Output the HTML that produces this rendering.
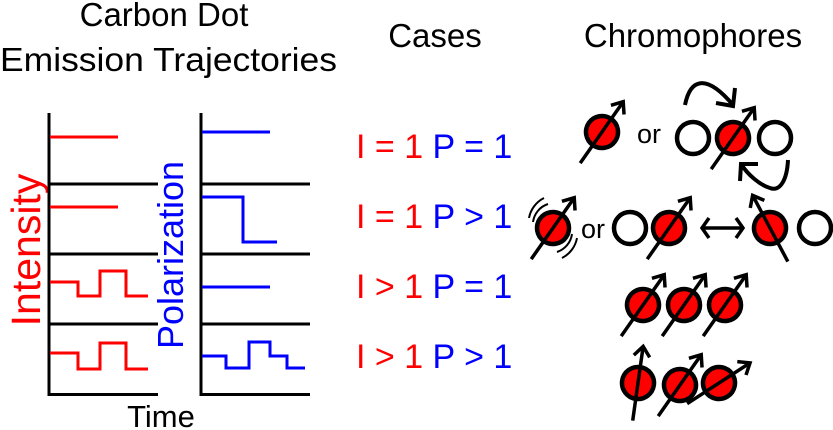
<!DOCTYPE html>
<html><head><meta charset="utf-8"><style>
html,body{margin:0;padding:0;background:#fff;}
svg{display:block;font-family:"Liberation Sans",Arial,sans-serif;}
</style></head><body>
<svg width="833" height="430" viewBox="0 0 833 430" xmlns="http://www.w3.org/2000/svg">
<defs>
<g id="sp">
 <circle cx="0" cy="0" r="16" fill="#f00" stroke="#000" stroke-width="4.5"/>
 <line x1="0" y1="38" x2="0" y2="-37" stroke="#000" stroke-width="3.5"/>
 <polyline points="-8,-27 0,-37 8,-27" fill="none" stroke="#000" stroke-width="3.5"/>
</g>
<g id="ec"><circle cx="0" cy="0" r="16" fill="#fff" stroke="#000" stroke-width="4.5"/></g>
</defs>
<g font-size="33" fill="#000">
<text x="164" y="26" text-anchor="middle">Carbon Dot</text>
<text x="0" y="71" textLength="337" lengthAdjust="spacingAndGlyphs">Emission Trajectories</text>
<text x="435" y="47" text-anchor="middle">Cases</text>
<text x="693" y="47" text-anchor="middle">Chromophores</text>
<text x="161" y="427" text-anchor="middle" font-size="31">Time</text>
</g>
<text transform="translate(40,250) rotate(-90)" text-anchor="middle" font-size="41" fill="#f00">Intensity</text>
<text transform="translate(183,255) rotate(-90)" text-anchor="middle" font-size="36" fill="#00f">Polarization</text>
<g stroke="#000" stroke-width="3" fill="none">
<line x1="49" y1="113" x2="49" y2="396"/>
<line x1="49" y1="184" x2="158" y2="184"/><line x1="49" y1="254" x2="158" y2="254"/><line x1="49" y1="324" x2="158" y2="324"/><line x1="49" y1="394.5" x2="158" y2="394.5"/>
<line x1="201" y1="113" x2="201" y2="396"/>
<line x1="201" y1="184" x2="310" y2="184"/><line x1="201" y1="254" x2="310" y2="254"/><line x1="201" y1="324" x2="310" y2="324"/><line x1="201" y1="394.5" x2="310" y2="394.5"/>
</g>
<g stroke="#f00" stroke-width="3" fill="none">
<line x1="50" y1="137" x2="118" y2="137"/>
<line x1="50" y1="207" x2="118" y2="207"/>
<polyline points="50,282 78,282 78,296 100,296 100,271 126,271 126,296 148,296"/>
<polyline points="50,353 78,353 78,369 100,369 100,343 126,343 126,369 148,369"/>
</g>
<g stroke="#00f" stroke-width="3" fill="none">
<line x1="202" y1="132" x2="270" y2="132"/>
<polyline points="202,197 243,197 243,242 277,242"/>
<line x1="202" y1="287" x2="270" y2="287"/>
<polyline points="202,356 226,356 226,368 249,368 249,342 270,342 270,356 287,356 287,368 305,368"/>
</g>
<g font-size="34">
<text x="356" y="158"><tspan fill="#f00">I = 1</tspan><tspan fill="#00f"> P = 1</tspan></text>
<text x="356" y="228"><tspan fill="#f00">I = 1</tspan><tspan fill="#00f"> P &gt; 1</tspan></text>
<text x="356" y="298"><tspan fill="#f00">I &gt; 1</tspan><tspan fill="#00f"> P = 1</tspan></text>
<text x="356" y="368"><tspan fill="#f00">I &gt; 1</tspan><tspan fill="#00f"> P &gt; 1</tspan></text>
</g>
<!-- row 1 -->
<use href="#sp" transform="translate(602,132) rotate(35)"/>
<text x="637" y="143" font-size="27">or</text>
<use href="#ec" transform="translate(693,138)"/>
<use href="#ec" transform="translate(775,138)"/>
<use href="#sp" transform="translate(733,138) rotate(35)"/>
<g stroke="#000" stroke-width="4" fill="none">
<path d="M685,105 C690,80 705,72 733,105"/>
<polyline points="716,103 733,106 735,88"/>
<path d="M788,160 C787,180 780,192 770,188 C760,185 748,175 741,164"/>
<polyline points="740,181 741,164 758,164"/>
</g>
<!-- row 2 -->
<use href="#sp" transform="translate(553,228) rotate(35)"/>
<g stroke="#000" stroke-width="2" fill="none">
<path d="M533,222 A22,22 0 0 1 548,204"/><path d="M529,218 A28,28 0 0 1 544,198"/>
<path d="M572,234 A22,22 0 0 1 557,252"/><path d="M577,238 A28,28 0 0 1 562,258"/>
</g>
<text x="581" y="238" font-size="27">or</text>
<use href="#ec" transform="translate(630,228)"/>
<use href="#sp" transform="translate(669,228) rotate(35)"/>
<g stroke="#000" stroke-width="3.5" fill="none">
<line x1="702" y1="228" x2="743" y2="228"/>
<polyline points="709,218 702,228 709,238"/><polyline points="736,218 743,228 736,238"/>
</g>
<use href="#sp" transform="translate(770,228) rotate(-28)"/>
<use href="#ec" transform="translate(815,228)"/>
<!-- row 3 -->
<use href="#sp" transform="translate(643,305) rotate(35)"/>
<use href="#sp" transform="translate(684,305) rotate(35)"/>
<use href="#sp" transform="translate(725,305) rotate(35)"/>
<!-- row 4 -->
<use href="#sp" transform="translate(638,383) rotate(8)"/>
<use href="#sp" transform="translate(680,385) rotate(35)"/>
<use href="#sp" transform="translate(719,383) rotate(57)"/>
</svg>
</body></html>
